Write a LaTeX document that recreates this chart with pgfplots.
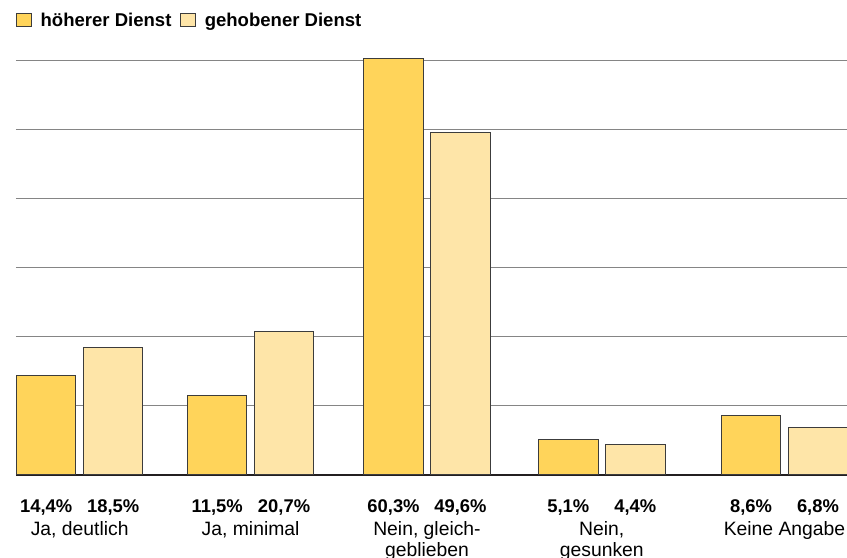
\documentclass[border=0pt]{standalone}
\usepackage{pgfplots}
\pgfplotsset{compat=1.18}
\usepackage{pgfplotstable}
\usepackage{fontspec}
\setmainfont{Liberation Sans}

\definecolor{hoeher}{HTML}{FFD45A}
\definecolor{gehoben}{HTML}{FEE5A8}
\definecolor{rand}{HTML}{3C3C3C}
\definecolor{gitter}{HTML}{858585}
\definecolor{basis}{HTML}{231F20}

% Anteile in Prozent; x = Lage der Gruppe
\pgfplotstableread{
x h g
0 14.4 18.5
0.970 11.5 20.7
1.971 60.3 49.6
2.963 5.1 4.4
4 8.6 6.8
}\daten

\begin{document}
\begin{tikzpicture}
\begin{axis}[
  scale only axis,
  width=623.25pt, height=311pt,
  xmin=-0.3615, xmax=4.3547,
  ymin=0, ymax=60,
  clip=false,
  axis x line*=bottom,
  axis y line*=left,
  x axis line style={-, color=basis, line width=1.5pt},
  y axis line style={draw=none},
  ytick={10,20,...,60},
  yticklabels={},
  ytick style={draw=none},
  ymajorgrids,
  grid style={gitter, line width=0.9pt},
  xtick={0,0.970,1.971,2.963,4},
  xticklabels={{Ja, deutlich},{Ja, minimal},{Nein, gleich-\\geblieben},{Nein,\\gesunken},{Keine Angabe}},
  major tick length=0pt,
  xticklabel style={align=center, anchor=north, inner sep=0pt, yshift=-34.5pt,
    font=\fontsize{14.5pt}{15.8pt}\selectfont},
  legend columns=2,
  legend style={at={(0,1)}, anchor=south west, yshift=21.6pt, draw=none, fill=none,
    inner sep=0pt, font=\bfseries\fontsize{13.9pt}{16pt}\selectfont,
    /tikz/every odd column/.append style={column sep=4.3pt},
    /tikz/every even column/.append style={column sep=4.7pt}},
  legend image code/.code={\draw[#1] (0pt,-4pt) rectangle (11.25pt,5.75pt);},
]
\addplot[ybar, bar width=0.3377, bar shift=-0.19, fill=hoeher, draw=rand, line width=0.75pt]
  table[x=x, y=h] {\daten};
\addplot[ybar, bar width=0.3377, bar shift=0.19, fill=gehoben, draw=rand, line width=0.75pt]
  table[x=x, y=g] {\daten};
\legend{höherer Dienst, gehobener Dienst}

% Werte unter den Balken
\addplot[draw=none, forget plot, point meta=explicit,
  nodes near coords={\pgfmathprintnumber[fixed,precision=1,zerofill,use comma,assume math mode=true]{\pgfplotspointmeta}\%},
  nodes near coords style={font=\bfseries\fontsize{13.8pt}{16pt}\selectfont, anchor=base,
    inner sep=0pt, yshift=-28.5pt, xshift=-25.1pt}]
  table[x=x, y expr=0, meta=h] {\daten};
\addplot[draw=none, forget plot, point meta=explicit,
  nodes near coords={\pgfmathprintnumber[fixed,precision=1,zerofill,use comma,assume math mode=true]{\pgfplotspointmeta}\%},
  nodes near coords style={font=\bfseries\fontsize{13.8pt}{16pt}\selectfont, anchor=base,
    inner sep=0pt, yshift=-28.5pt, xshift=25.1pt}]
  table[x=x, y expr=0, meta=g] {\daten};
\end{axis}
\pgfresetboundingbox
\path[use as bounding box] (-12pt,-62.25pt) rectangle (623.25pt,356.225pt);
\end{tikzpicture}
\end{document}
